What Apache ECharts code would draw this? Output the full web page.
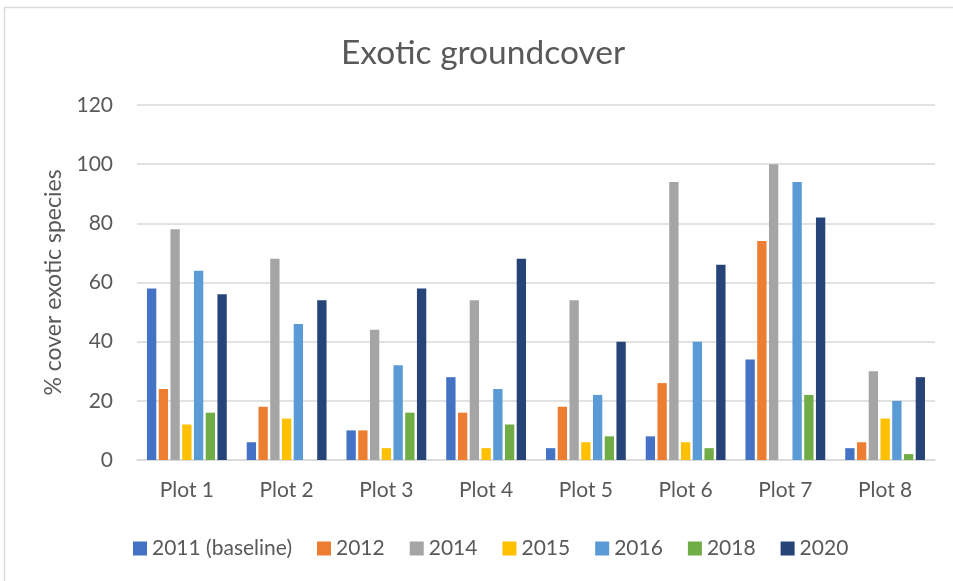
<!DOCTYPE html>
<html>
<head>
<meta charset="utf-8">
<script src="https://cdn.jsdelivr.net/npm/echarts@6/dist/echarts.min.js"></script>
<style>
html,body{margin:0;padding:0;background:#fff;}
#chart{width:953px;height:581px;}
</style>
</head>
<body>
<div id="chart"></div>
<script>
const categories = ['Plot 1','Plot 2','Plot 3','Plot 4','Plot 5','Plot 6','Plot 7','Plot 8'];
const seriesNames = ['2011 (baseline)','2012','2014','2015','2016','2018','2020'];
const s2011 = [58, 6, 10, 28, 4, 8, 34, 4];
const s2012 = [24, 18, 10, 16, 18, 26, 74, 6];
const s2014 = [78, 68, 44, 54, 54, 94, 100, 30];
const s2015 = [12, 14, 4, 4, 6, 6, 0, 14];
const s2016 = [64, 46, 32, 24, 22, 40, 94, 20];
const s2018 = [16, 0, 16, 12, 8, 4, 22, 2];
const s2020 = [56, 54, 58, 68, 40, 66, 82, 28];
const yTicks = [0, 20, 40, 60, 80, 100, 120];
const colors = ['#4472C4','#ED7D31','#A5A5A5','#FFC000','#5B9BD5','#70AD47','#264478'];

const allValues = [s2011, s2012, s2014, s2015, s2016, s2018, s2020];
const FONT = 'Lato';
const chart = echarts.init(document.getElementById('chart'));
chart.setOption({
  animation: false,
  color: colors,
  textStyle: { fontFamily: FONT },
  title: {
    text: 'Exotic groundcover',
    left: 336,
    top: 31,
    padding: 5,
    textStyle: { fontFamily: FONT, fontSize: 33.5, fontWeight: 'normal', color: '#595959' }
  },
  graphic: [{
    type: 'polyline',
    shape: { points: [[953, 7.5], [4.5, 7.5], [4.5, 581]] },
    style: { stroke: '#D9D9D9', lineWidth: 1.5, fill: null },
    silent: true
  }],
  legend: {
    data: seriesNames,
    left: 133,
    top: 538,
    padding: 0,
    itemWidth: 14,
    itemHeight: 14,
    itemGap: 25,
    icon: 'rect',
    textStyle: { fontFamily: FONT, fontSize: 21, color: '#595959' }
  },
  grid: { left: 137, right: 18, top: 105, bottom: 121, containLabel: false },
  xAxis: {
    type: 'category',
    data: categories,
    axisLine: { show: true, lineStyle: { color: '#D9D9D9', width: 1.5 } },
    axisTick: { show: false },
    axisLabel: { fontFamily: FONT, fontSize: 21, color: '#595959', margin: 20 }
  },
  yAxis: {
    type: 'value',
    min: yTicks[0],
    max: yTicks[yTicks.length - 1],
    interval: 20,
    name: '% cover exotic species',
    nameLocation: 'middle',
    nameGap: 70,
    nameTextStyle: { fontFamily: FONT, fontSize: 23, color: '#595959' },
    axisLine: { show: false },
    axisTick: { show: false },
    splitLine: { lineStyle: { color: '#D9D9D9', width: 1.5 } },
    axisLabel: { fontFamily: FONT, fontSize: 21, color: '#595959', margin: 24 }
  },
  series: seriesNames.map((n, i) => ({
    name: n,
    type: 'bar',
    data: allValues[i],
    barGap: '26%',
    barCategoryGap: '20%',
    itemStyle: { color: colors[i] }
  }))
});
</script>
</body>
</html>
